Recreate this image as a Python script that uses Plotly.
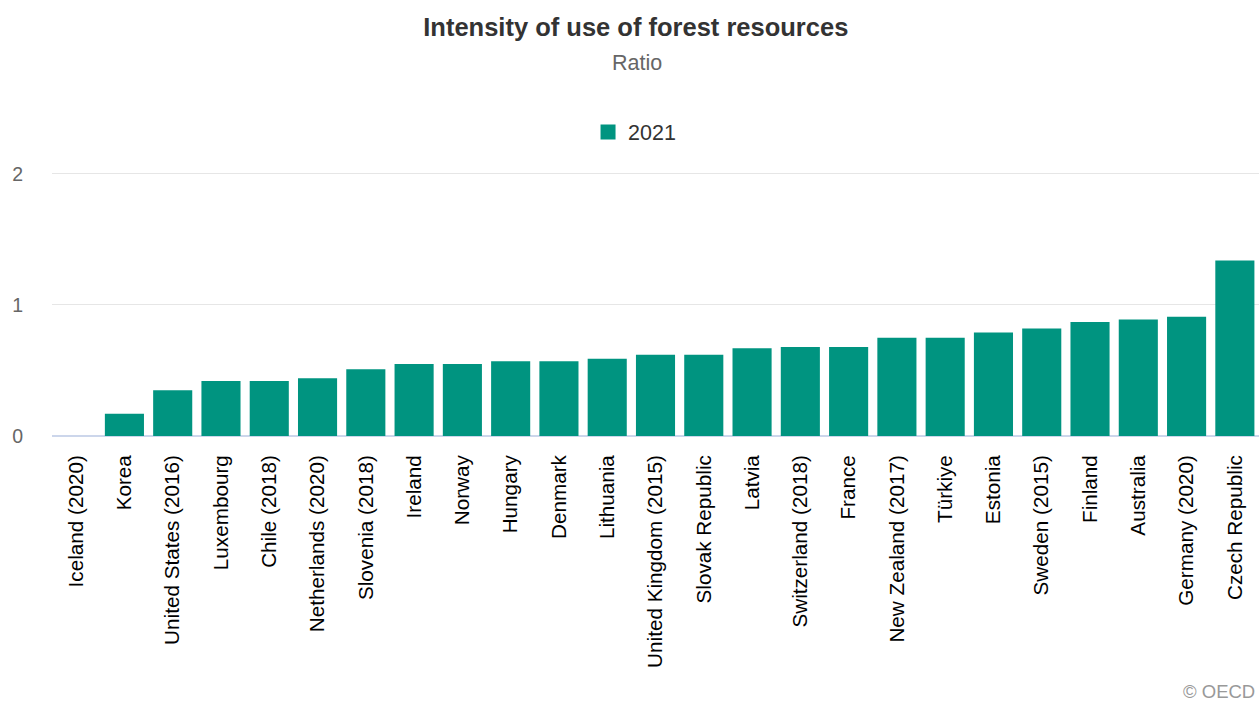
import plotly.graph_objects as go

countries = [
    "Iceland (2020)", "Korea", "United States (2016)", "Luxembourg", "Chile (2018)",
    "Netherlands (2020)", "Slovenia (2018)", "Ireland", "Norway", "Hungary", "Denmark",
    "Lithuania", "United Kingdom (2015)", "Slovak Republic", "Latvia", "Switzerland (2018)",
    "France", "New Zealand (2017)", "Türkiye", "Estonia", "Sweden (2015)", "Finland",
    "Australia", "Germany (2020)", "Czech Republic",
]
values_2021 = [
    0.0, 0.17, 0.35, 0.42, 0.42, 0.44, 0.51, 0.55, 0.55, 0.57, 0.57, 0.59, 0.62, 0.62,
    0.67, 0.68, 0.68, 0.75, 0.75, 0.79, 0.82, 0.87, 0.89, 0.91, 1.34,
]
series_name = "2021"
y_ticks = [0, 1, 2]

COLOR = "#009480"
FONT = "Liberation Sans, Arial, sans-serif"

fig = go.Figure()
fig.add_trace(go.Bar(
    x=countries, y=values_2021, name=series_name, marker_color=COLOR,
    marker_line_width=0, showlegend=False,
))
# legend swatch
fig.add_trace(go.Scatter(
    x=[None], y=[None], mode="markers", name=series_name,
    marker=dict(symbol="square", size=15, color=COLOR),
))

H = 704
PLOT_TOP, PLOT_BOTTOM = 172, 436
PH = PLOT_BOTTOM - PLOT_TOP

fig.update_layout(
    width=1259, height=704,
    margin=dict(l=52, r=0, t=PLOT_TOP, b=H - PLOT_BOTTOM, autoexpand=False),
    plot_bgcolor="white", paper_bgcolor="white",
    font=dict(family=FONT, color="#333333"),
    bargap=0.19,
    title=dict(
        text="<b>Intensity of use of forest resources</b>",
        x=0.505, xanchor="center", xref="container",
        y=1 - 27 / H, yanchor="middle", yref="container",
        font=dict(size=25.5, color="#333333", family=FONT),
    ),
    legend=dict(
        orientation="h", xref="container", yref="container",
        x=0.504, xanchor="center", y=1 - 132 / H, yanchor="middle",
        font=dict(size=21.5, color="#333333"),
        itemwidth=30,
    ),
    showlegend=True,
    xaxis=dict(
        type="category", tickangle=-90, showgrid=False, showline=False,
        ticks="", tickfont=dict(size=20.7, color="#000000"),
        ticklabelstandoff=14,
    ),
    yaxis=dict(
        range=[0, 2.015], tickvals=y_ticks, showgrid=True, gridcolor="#e6e6e6",
        gridwidth=1, zeroline=True, zerolinecolor="#ccd6eb", zerolinewidth=2,
        ticks="", tickfont=dict(size=19.5, color="#666666"),
        ticklabelstandoff=28, fixedrange=True,
    ),
    annotations=[
        dict(text="Ratio", xref="paper", yref="paper", x=0.4845, xanchor="center",
             y=(PLOT_BOTTOM - 63) / PH, yanchor="middle", showarrow=False,
             font=dict(size=21.5, color="#666666")),
        dict(text="© OECD", xref="paper", yref="paper", x=1.0, xanchor="right",
             xshift=-3, y=(PLOT_BOTTOM - 691) / PH, yanchor="middle", showarrow=False,
             borderpad=0, font=dict(size=18.5, color="#999999")),
    ],
)

fig.write_html("out.html")
